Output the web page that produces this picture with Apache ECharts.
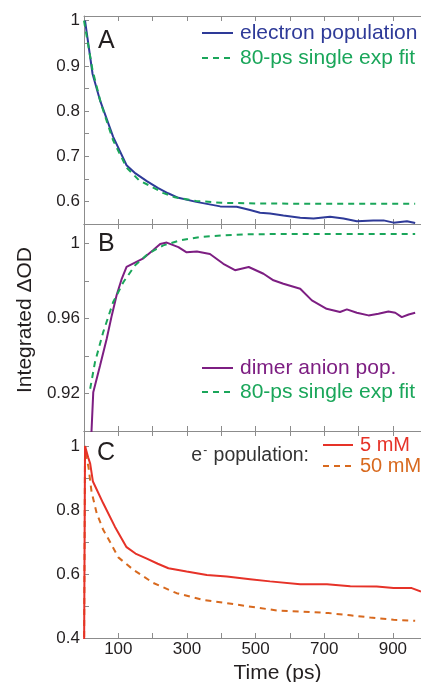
<!DOCTYPE html>
<html>
<head>
<meta charset="utf-8">
<script src="https://cdn.jsdelivr.net/npm/echarts@6/dist/echarts.min.js"></script>
<style>
  html, body { margin: 0; padding: 0; background: #fff; }
  #chart { width: 421px; height: 682px; }
</style>
</head>
<body>
<div id="chart"></div>
<script>
// ---- Panel A: electron population and its single-exponential fit ----
const tElectronA = [3, 25, 47, 85, 124, 150, 183, 215, 245, 275, 327, 397, 445, 484, 513, 542, 581, 630, 669, 717, 756, 795, 843, 873, 902, 941, 965];
const electronA  = [1.0, 0.882, 0.823, 0.743, 0.680, 0.662, 0.645, 0.630, 0.618, 0.608, 0.599, 0.589, 0.588, 0.581, 0.575, 0.573, 0.569, 0.564, 0.562, 0.566, 0.562, 0.556, 0.558, 0.558, 0.553, 0.556, 0.552];
const tFitA = [0, 25, 50, 85, 124, 160, 183, 230, 265, 327, 400, 500, 600, 700, 800, 900, 965];
const fitA  = [1.0, 0.890, 0.815, 0.735, 0.675, 0.647, 0.638, 0.619, 0.609, 0.601, 0.597, 0.5955, 0.595, 0.595, 0.595, 0.595, 0.595];

// ---- Panel B: dimer anion population and its fit ----
const tDimer = [17, 27, 47, 66, 81, 95, 110, 124, 173, 202, 222, 241, 275, 299, 329, 367, 406, 440, 480, 523, 552, 581, 630, 664, 707, 746, 766, 795, 829, 858, 887, 907, 926, 946, 965];
const dimer  = [0.880, 0.9207, 0.935, 0.949, 0.9616, 0.9723, 0.9811, 0.9875, 0.992, 0.9964, 0.9996, 1.0004, 0.998, 0.9952, 0.9956, 0.9943, 0.9891, 0.9857, 0.9874, 0.9838, 0.9803, 0.9785, 0.9758, 0.9696, 0.9651, 0.9634, 0.9648, 0.963, 0.9616, 0.9625, 0.9637, 0.963, 0.9607, 0.9621, 0.963];
const tFitB = [18, 32, 56, 85, 115, 149, 187, 231, 280, 338, 406, 474, 600, 700, 800, 900, 965];
const fitB  = [0.9225, 0.9367, 0.9527, 0.9687, 0.9794, 0.9883, 0.9945, 0.9989, 1.0016, 1.0034, 1.0043, 1.0048, 1.005, 1.005, 1.005, 1.005, 1.005];

// ---- Panel C: electron population at two concentrations ----
const t5mM = [0, 3, 12, 18, 26, 56, 90, 124, 150, 183, 215, 246, 299, 358, 416, 484, 542, 630, 708, 776, 853, 902, 955, 982];
const e5mM = [0.30, 1.0, 0.965, 0.945, 0.889, 0.821, 0.748, 0.684, 0.664, 0.648, 0.632, 0.618, 0.608, 0.597, 0.592, 0.584, 0.577, 0.568, 0.568, 0.562, 0.561, 0.556, 0.556, 0.545];
const t50mM = [0, 3, 8, 13, 22, 37, 56, 76, 100, 144, 202, 270, 348, 416, 479, 562, 630, 712, 776, 834, 902, 965];
const e50mM = [0.30, 1.0, 0.958, 0.935, 0.857, 0.790, 0.738, 0.700, 0.652, 0.613, 0.572, 0.540, 0.519, 0.509, 0.499, 0.486, 0.483, 0.478, 0.471, 0.464, 0.457, 0.454];

// ---- Tick labels ----
const xTickLabels  = ['100', '300', '500', '700', '900'];
const yTickLabelsA = ['0.6', '0.7', '0.8', '0.9', '1'];
const yTickLabelsB = ['0.92', '0.96', '1'];
const yTickLabelsC = ['0.4', '0.6', '0.8', '1'];

const FONT = "'Liberation Sans', Arial, Helvetica, sans-serif";
const AXIS = '#8c8c8c';
const INK = '#231f20';
const BLUE = '#2e3a98', GREEN = '#1aa65a', PURPLE = '#7d1e82', RED = '#e63228', ORANGE = '#d8691e';

const pairs = (xs, ys) => xs.map((x, i) => [x, ys[i]]);
const pick = labels => v => labels.find(s => Math.abs(parseFloat(s) - v) < 1e-6) || '';

const grids = [
  { left: 84, top: 16, width: 337, height: 208 },
  { left: 84, top: 224, width: 337, height: 207 },
  { left: 84, top: 431, width: 337, height: 207 }
].map(g => Object.assign({ outerBoundsMode: 'none', containLabel: false }, g));

const tick = { show: true, inside: true, length: 5, lineStyle: { color: AXIS, width: 1 } };
const line = { show: true, lineStyle: { color: AXIS, width: 1 } };

const xAxes = [];
grids.forEach((g, i) => {
  const base = { type: 'value', gridIndex: i, min: 0, max: 982, interval: 100,
    axisLine: line, axisTick: tick, splitLine: { show: false } };
  xAxes.push(Object.assign({}, base, {
    position: 'bottom',
    axisLabel: i === 2
      ? { show: true, formatter: pick(xTickLabels), color: INK, fontFamily: FONT, fontSize: 17, margin: 3 }
      : { show: false }
  }));
  xAxes.push(Object.assign({}, base, { position: 'top', axisLabel: { show: false } }));
});

const yCfg = [
  { min: 0.55, max: 1.0104, interval: 0.05, labels: yTickLabelsA },
  { min: 0.9, max: 1.0103, interval: 0.02, labels: yTickLabelsB },
  { min: 0.4, max: 1.047, interval: 0.1, labels: yTickLabelsC }
];
const yAxes = yCfg.map((c, i) => ({
  type: 'value', gridIndex: i, position: 'left', min: c.min, max: c.max, interval: c.interval,
  axisLine: line, axisTick: tick, splitLine: { show: false },
  axisLabel: { show: true, formatter: pick(c.labels), color: INK, fontFamily: FONT, fontSize: 17, margin: 4 }
}));

const mk = (name, xs, ys, gi, color, dashed) => ({
  name, type: 'line', xAxisIndex: gi * 2, yAxisIndex: gi, data: pairs(xs, ys),
  symbol: 'none', showSymbol: false, smooth: false, clip: true, silent: true,
  lineStyle: { color, width: 2, type: dashed ? [6, 5] : 'solid' },
  itemStyle: { color }
});

const series = [
  mk('electron population', tElectronA, electronA, 0, BLUE, false),
  mk('80-ps single exp fit', tFitA, fitA, 0, GREEN, true),
  mk('dimer anion pop.', tDimer, dimer, 1, PURPLE, false),
  mk('80-ps single exp fit', tFitB, fitB, 1, GREEN, true),
  mk('50 mM', t50mM, e50mM, 2, ORANGE, true),
  mk('5 mM', t5mM, e5mM, 2, RED, false)
];

// legend keys show only the line stroke, no marker
const legendBase = { orient: 'vertical', itemWidth: 31, itemHeight: 10, itemGap: 0, padding: 0,
  selectedMode: false, itemStyle: { color: 'transparent', borderColor: 'transparent', borderWidth: 0 } };
const legItem = (name, color, size, lh) => ({ name, textStyle: { color, fontFamily: FONT, fontSize: size, lineHeight: lh, padding: [0, 0, 0, 2] } });

const legends = [
  Object.assign({}, legendBase, { left: 201, top: 20.5,
    data: [legItem('electron population', BLUE, 21, 25), legItem('80-ps single exp fit', GREEN, 21, 25)] }),
  Object.assign({}, legendBase, { left: 201, top: 356,
    data: [legItem('dimer anion pop.', PURPLE, 21, 24), legItem('80-ps single exp fit', GREEN, 21, 24)] }),
  Object.assign({}, legendBase, { left: 322, top: 434.5, itemWidth: 30,
    data: [legItem('5 mM', RED, 20, 21), legItem('50 mM', ORANGE, 20, 21)] })
];

const graphics = [
  { type: 'text', x: 98, y: 41, silent: true, style: { text: 'A', font: '25px ' + FONT, fill: INK, align: 'left', verticalAlign: 'middle' } },
  { type: 'text', x: 98, y: 244, silent: true, style: { text: 'B', font: '25px ' + FONT, fill: INK, align: 'left', verticalAlign: 'middle' } },
  { type: 'text', x: 97, y: 453, silent: true, style: { text: 'C', font: '25px ' + FONT, fill: INK, align: 'left', verticalAlign: 'middle' } },
  { type: 'text', x: 25.5, y: 320, rotation: Math.PI / 2, silent: true,
    style: { text: 'Integrated ΔOD', font: '21px ' + FONT, fill: INK, align: 'center', verticalAlign: 'middle' } },
  { type: 'text', x: 277.5, y: 673, silent: true,
    style: { text: 'Time (ps)', font: '21px ' + FONT, fill: INK, align: 'center', verticalAlign: 'middle' } },
  { type: 'text', x: 309, y: 456, silent: true,
    style: {
      text: '{a|e}{s|-}{a| population:}', align: 'right', verticalAlign: 'middle',
      rich: {
        a: { fontFamily: FONT, fontSize: 19.5, fill: '#333', lineHeight: 22 },
        s: { fontFamily: FONT, fontSize: 12, fill: '#333', lineHeight: 22, verticalAlign: 'top', padding: [0, 1, 0, 1] }
      }
    } }
];

const chart = echarts.init(document.getElementById('chart'), null, { renderer: 'canvas' });
chart.setOption({
  animation: false,
  backgroundColor: '#fff',
  grid: grids,
  xAxis: xAxes,
  yAxis: yAxes,
  legend: legends,
  series,
  graphic: graphics
});
</script>
</body>
</html>
